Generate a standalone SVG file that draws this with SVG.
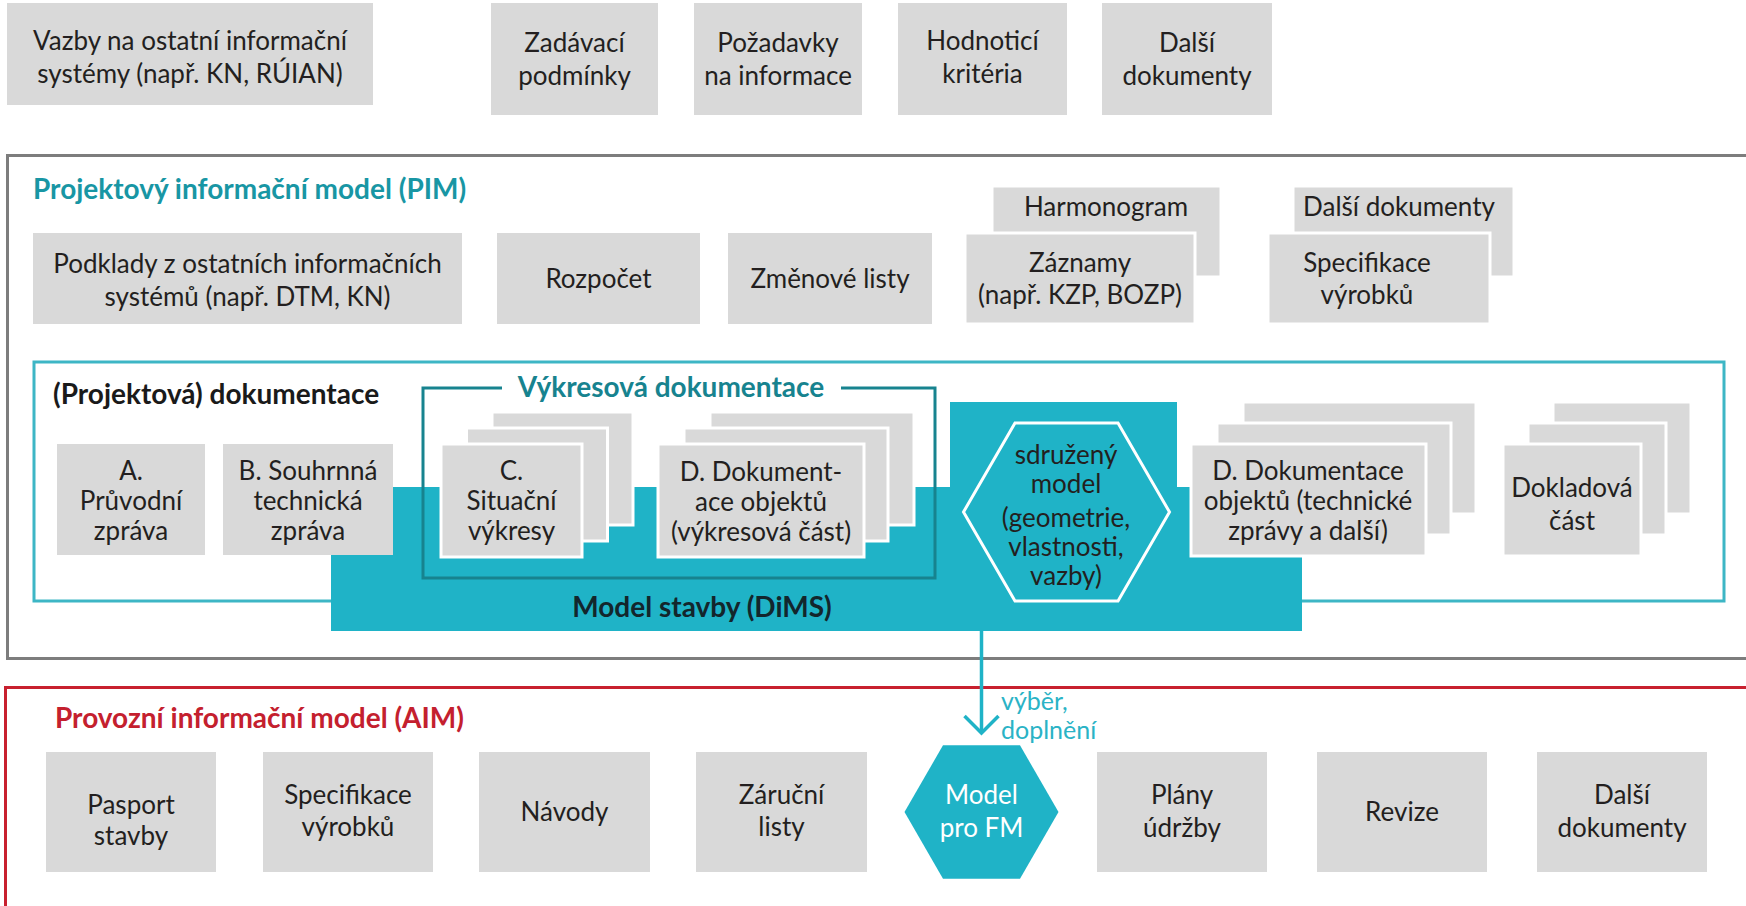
<svg xmlns="http://www.w3.org/2000/svg" width="1746" height="906" viewBox="0 0 1746 906">
<defs>
<style>
.box{fill:#d9d9d9}
.sbox{fill:#d9d9d9;stroke:#fff;stroke-width:3}
.t{font-family:Lato,"Open Sans",sans-serif;font-size:26px;fill:#231f20;text-anchor:middle}
.h{font-family:Lato,"Open Sans",sans-serif;font-weight:700;font-size:28px}
.lbl{font-family:Lato,"Open Sans",sans-serif;font-size:25px;fill:#2ab3c6}
.teal{fill:#1fb3c7}
</style>
<marker id="arr" markerUnits="userSpaceOnUse" markerWidth="44" markerHeight="44" viewBox="-22 -22 44 44" refX="0" refY="0" orient="auto" overflow="visible">
<path d="M-17,-17 L0,0 L-17,17" fill="none" stroke="#1fb3c7" stroke-width="3.5"/>
</marker>
</defs>
<rect width="1746" height="906" fill="#fff"/>

<!-- top row -->
<g id="n-vazby"><rect class="box" x="7" y="3" width="366" height="102"/>
<text class="t"><tspan x="190" y="50">Vazby na ostatní informační</tspan><tspan x="190" y="83">systémy (např. KN, RÚIAN)</tspan></text></g>
<g id="n-zadavaci"><rect class="box" x="491" y="3" width="167" height="112"/>
<text class="t"><tspan x="574.5" y="52">Zadávací</tspan><tspan x="574.5" y="85">podmínky</tspan></text></g>
<g id="n-pozadavky"><rect class="box" x="694" y="3" width="168" height="112"/>
<text class="t"><tspan x="778" y="52">Požadavky</tspan><tspan x="778" y="85">na informace</tspan></text></g>
<g id="n-hodnotici"><rect class="box" x="898" y="3" width="169" height="112"/>
<text class="t"><tspan x="982.5" y="50">Hodnoticí</tspan><tspan x="982.5" y="83">kritéria</tspan></text></g>
<g id="n-dalsi-top"><rect class="box" x="1102" y="3" width="170" height="112"/>
<text class="t"><tspan x="1187" y="52">Další</tspan><tspan x="1187" y="85">dokumenty</tspan></text></g>

<!-- PIM -->
<g id="pim">
<rect x="7.5" y="155.5" width="1760" height="503" fill="none" stroke="#7d7d7d" stroke-width="3"/>
<text class="h" x="33" y="199" fill="#1896a4">Projektový informační model (PIM)</text>
</g>
<g id="n-podklady"><rect class="box" x="33" y="233" width="429" height="91"/>
<text class="t"><tspan x="247.5" y="273">Podklady z ostatních informačních</tspan><tspan x="247.5" y="306">systémů (např. DTM, KN)</tspan></text></g>
<g id="n-rozpocet"><rect class="box" x="497" y="233" width="203" height="91"/>
<text class="t" x="598.5" y="288">Rozpočet</text></g>
<g id="n-zmenove"><rect class="box" x="728" y="233" width="204" height="91"/>
<text class="t" x="830" y="288">Změnové listy</text></g>
<g id="n-harmonogram"><rect class="sbox" x="992" y="186" width="229" height="91"/>
<text class="t" x="1106" y="216">Harmonogram</text></g>
<g id="n-zaznamy"><rect class="sbox" x="965" y="233" width="230" height="91"/>
<text class="t"><tspan x="1080" y="272">Záznamy</tspan><tspan x="1080" y="304">(např. KZP, BOZP)</tspan></text></g>
<g id="n-dalsi-pim"><rect class="sbox" x="1293" y="186" width="221" height="91"/>
<text class="t" x="1399" y="216">Další dokumenty</text></g>
<g id="n-specifikace-pim"><rect class="sbox" x="1268" y="233" width="222" height="91"/>
<text class="t"><tspan x="1367" y="272">Specifikace</tspan><tspan x="1367" y="304">výrobků</tspan></text></g>

<!-- documentation -->
<g id="n-dokumentace">
<rect x="34" y="362" width="1690" height="239" fill="none" stroke="#3db6c5" stroke-width="3"/>
<text class="h" x="53" y="404" fill="#1a1a1a">(Projektová) dokumentace</text>
</g>
<g id="n-model-stavby">
<path class="teal" d="M331,487 H950 V402 H1177 V487 H1302 V631 H331 Z"/>
<text class="h" x="702" y="617" fill="#13262c" text-anchor="middle">Model stavby (DiMS)</text>
</g>
<g id="n-vykresova">
<path d="M502,388 H423 V578 H935 V388 H841" fill="none" stroke="#17838f" stroke-width="3"/>
<text class="h" x="671" y="397" fill="#17838f" text-anchor="middle">Výkresová dokumentace</text>
</g>
<g id="n-a"><rect class="box" x="57" y="444" width="148" height="111"/>
<text class="t"><tspan x="131" y="480">A.</tspan><tspan x="131" y="510">Průvodní</tspan><tspan x="131" y="540">zpráva</tspan></text></g>
<g id="n-b"><rect class="box" x="223" y="444" width="170" height="111"/>
<text class="t"><tspan x="308" y="480">B. Souhrnná</tspan><tspan x="308" y="510">technická</tspan><tspan x="308" y="540">zpráva</tspan></text></g>
<g id="n-c">
<rect class="sbox" x="492" y="412" width="141" height="113"/>
<rect class="sbox" x="466.5" y="428" width="141" height="113"/>
<rect class="sbox" x="441" y="444" width="141" height="113"/>
<text class="t"><tspan x="511.5" y="480">C.</tspan><tspan x="511.5" y="510">Situační</tspan><tspan x="511.5" y="540">výkresy</tspan></text></g>
<g id="n-d-vykres">
<rect class="sbox" x="710" y="412" width="204" height="113"/>
<rect class="sbox" x="684" y="428" width="204" height="113"/>
<rect class="sbox" x="658" y="444" width="206" height="113"/>
<text class="t"><tspan x="761" y="481">D. Dokument-</tspan><tspan x="761" y="511">ace objektů</tspan><tspan x="761" y="541">(výkresová část)</tspan></text></g>
<g id="n-sdruzeny">
<polygon class="teal" points="963.5,512 1015,423 1118,423 1169.5,512 1118,601 1015,601" stroke="#fff" stroke-width="3"/>
<text class="t"><tspan x="1066" y="464">sdružený</tspan><tspan x="1066" y="493">model</tspan><tspan x="1066" y="527">(geometrie,</tspan><tspan x="1066" y="556">vlastnosti,</tspan><tspan x="1066" y="585">vazby)</tspan></text></g>
<g id="n-d-dokumentace">
<rect class="sbox" x="1243" y="402" width="233" height="112"/>
<rect class="sbox" x="1217" y="423" width="234" height="112"/>
<rect class="sbox" x="1191" y="444" width="235" height="112"/>
<text class="t"><tspan x="1308" y="480">D. Dokumentace</tspan><tspan x="1308" y="510">objektů (technické</tspan><tspan x="1308" y="540">zprávy a další)</tspan></text></g>
<g id="n-dokladova">
<rect class="sbox" x="1553" y="402" width="138" height="112"/>
<rect class="sbox" x="1528" y="423" width="138" height="112"/>
<rect class="sbox" x="1503" y="444" width="138" height="112"/>
<text class="t"><tspan x="1572" y="497">Dokladová</tspan><tspan x="1572" y="530">část</tspan></text></g>

<!-- AIM -->
<g id="aim">
<rect x="5.5" y="687.5" width="1760" height="240" fill="none" stroke="#c8202f" stroke-width="3"/>
<text class="h" x="55" y="728" fill="#c4202e">Provozní informační model (AIM)</text>
</g>
<g id="n-pasport"><rect class="box" x="46" y="752" width="170" height="120"/>
<text class="t"><tspan x="131" y="814">Pasport</tspan><tspan x="131" y="845">stavby</tspan></text></g>
<g id="n-specifikace-aim"><rect class="box" x="263" y="752" width="170" height="120"/>
<text class="t"><tspan x="348" y="804">Specifikace</tspan><tspan x="348" y="836">výrobků</tspan></text></g>
<g id="n-navody"><rect class="box" x="479" y="752" width="171" height="120"/>
<text class="t" x="564.5" y="821">Návody</text></g>
<g id="n-zarucni"><rect class="box" x="696" y="752" width="171" height="120"/>
<text class="t"><tspan x="781.5" y="804">Záruční</tspan><tspan x="781.5" y="836">listy</tspan></text></g>
<g id="n-model-fm">
<polygon class="teal" points="904.5,812 943,745.3 1020,745.3 1058.5,812 1020,878.7 943,878.7"/>
<text class="t" style="fill:#fff"><tspan x="981.5" y="804">Model</tspan><tspan x="981.5" y="837">pro FM</tspan></text></g>
<g id="n-plany"><rect class="box" x="1097" y="752" width="170" height="120"/>
<text class="t"><tspan x="1182" y="804">Plány</tspan><tspan x="1182" y="837">údržby</tspan></text></g>
<g id="n-revize"><rect class="box" x="1317" y="752" width="170" height="120"/>
<text class="t" x="1402" y="821">Revize</text></g>
<g id="n-dalsi-aim"><rect class="box" x="1537" y="752" width="170" height="120"/>
<text class="t"><tspan x="1622" y="804">Další</tspan><tspan x="1622" y="837">dokumenty</tspan></text></g>

<!-- connectors -->
<g id="connectors">
<line x1="981.5" y1="631" x2="981.5" y2="733" stroke="#1fb3c7" stroke-width="3.5" marker-end="url(#arr)"/>
<text class="lbl" x="1001" y="710">výběr,</text>
<text class="lbl" x="1001" y="739">doplnění</text>
</g>
</svg>
